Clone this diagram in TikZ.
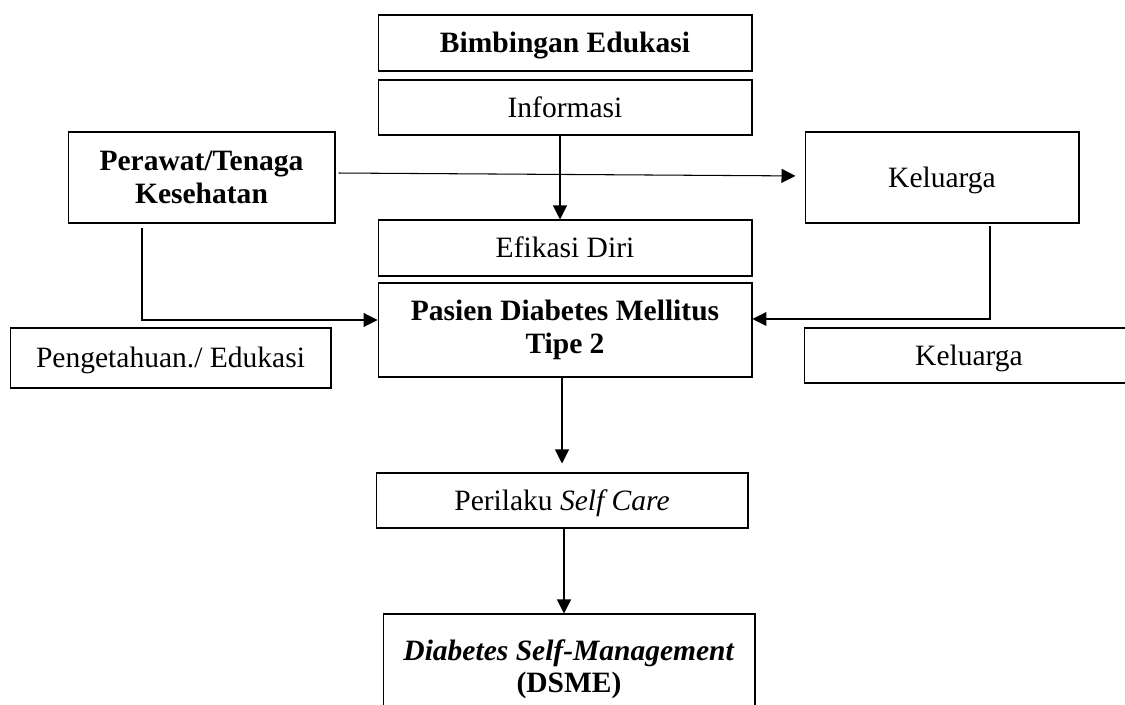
\documentclass[tikz,border=0pt]{standalone}
\usepackage{fontspec}
\setmainfont{Liberation Serif}
\usetikzlibrary{arrows.meta,calc}
\tikzset{
  box/.style={draw=black, line width=0.6pt, inner sep=0pt, align=center,
    font=\fontsize{16.8}{18.6}\selectfont},
  oneline/.style={text height=0.4cm, text depth=-0.05cm},
  arr/.style={draw=black, line width=0.6pt, -{Triangle[length=0.28cm,width=0.28cm]}}
}
\begin{document}
\begin{tikzpicture}[x=0.02cm, y=-0.02cm]
\useasboundingbox (0,0) rectangle (1125,705);
\clip (0,0) rectangle (1125,705);
\fill[white] (0,0) rectangle (1125,705);

\node[box, oneline, minimum width=7.48cm, minimum height=1.12cm] (bim) at (565,43) {\textbf{Bimbingan Edukasi}};
\node[box, oneline, minimum width=7.48cm, minimum height=1.10cm] (info) at (565,107.5) {Informasi};
\node[box, oneline, minimum width=7.48cm, minimum height=1.12cm] (efik) at (565,248) {Efikasi Diri};
\node[box, minimum width=7.48cm, minimum height=1.88cm] (pasien) at (565,330) {\textbf{Pasien Diabetes Mellitus}\\\textbf{Tipe 2}};
\node[box, minimum width=5.34cm, minimum height=1.82cm] (perawat) at (201.5,177.5) {\textbf{Perawat/Tenaga}\\\textbf{Kesehatan}};
\node[box, oneline, minimum width=5.48cm, minimum height=1.82cm] (kel1) at (942,177.5) {Keluarga};
\node[box, oneline, minimum width=6.42cm, minimum height=1.20cm] (peng) at (170.5,358) {Pengetahuan./ Edukasi};
\node[box, oneline, minimum width=6.60cm, minimum height=1.10cm] (kel2) at (969,355.5) {Keluarga};
\node[box, oneline, minimum width=7.44cm, minimum height=1.10cm] (peril) at (562,500.5) {Perilaku \textit{Self Care}};
\node[box, minimum width=7.44cm, minimum height=2.08cm, text depth=-0.05cm] (dsme) at (569,666) {\textbf{\textit{Diabetes Self-Management}}\\\textbf{(DSME)}};

\coordinate (pc) at (142,320);
\coordinate (kc) at (990,319);

\draw[arr] ([xshift=-0.1cm]info.south) -- ([xshift=-0.1cm]efik.north);
\draw[arr, shorten <=0.06cm, shorten >=0.18cm] ([yshift=0.09cm]perawat.east) -- ([yshift=0.03cm]kel1.west);
\draw[arr, shorten <=0.08cm] (perawat.south -| pc) |- (pasien.west |- pc);
\draw[arr, shorten <=0.04cm] (kel1.south -| kc) |- (pasien.east |- kc);
\draw[arr, shorten >=0.18cm] (pasien.south -| peril.north) -- (peril.north);
\draw[arr] ([xshift=0.04cm]peril.south) -- ([xshift=0.04cm]peril.south |- dsme.north);
\end{tikzpicture}
\end{document}
